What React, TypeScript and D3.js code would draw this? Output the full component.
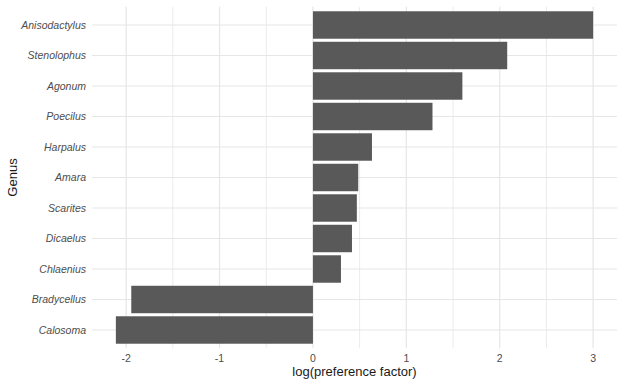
import React from 'react';
import * as d3 from 'd3';

// genera, top to bottom as drawn
const genera = [
  'Anisodactylus', 'Stenolophus', 'Agonum', 'Poecilus', 'Harpalus', 'Amara',
  'Scarites', 'Dicaelus', 'Chlaenius', 'Bradycellus', 'Calosoma',
];
const logPref = [3.0, 2.08, 1.6, 1.28, 0.632, 0.485, 0.47, 0.418, 0.3, -1.945, -2.11];
const xTicks = [-2, -1, 0, 1, 2, 3];
const xMinor = [-1.5, -0.5, 0.5, 1.5, 2.5];

const width = 624;
const height = 385;
const margin = { top: 6.7, right: 7, bottom: 36.7, left: 92 };

export default function App() {
  const lo = Math.min(0, d3.min(logPref) as number);
  const hi = Math.max(0, d3.max(logPref) as number);
  const pad = (hi - lo) * 0.05;

  const x = d3.scaleLinear()
    .domain([lo - pad, hi + pad])
    .range([margin.left, width - margin.right]);

  const y = d3.scaleBand()
    .domain(genera)
    .range([margin.top, height - margin.bottom])
    .paddingInner(0.1)
    .paddingOuter(0.15);

  const top = margin.top;
  const bottom = height - margin.bottom;
  const font = '"Liberation Sans", Arial, sans-serif';

  return (
    <svg width={width} height={height}
      style={{ position: 'absolute', left: 0, top: 0, background: '#fff' }}>
      {/* minor grid */}
      {xMinor.map(t => (
        <line key={'m' + t} x1={x(t)} x2={x(t)} y1={top} y2={bottom}
          stroke="#ebebeb" strokeWidth={1} />
      ))}
      {/* major grid */}
      {xTicks.map(t => (
        <line key={'g' + t} x1={x(t)} x2={x(t)} y1={top} y2={bottom}
          stroke="#e6e6e6" strokeWidth={1.2} />
      ))}
      {genera.map(g => {
        const cy = (y(g) as number) + y.bandwidth() / 2;
        return <line key={'h' + g} x1={margin.left} x2={width - margin.right}
          y1={cy} y2={cy} stroke="#e6e6e6" strokeWidth={1.2} />;
      })}

      {/* bars */}
      {genera.map((g, i) => {
        const v = logPref[i];
        return (
          <rect key={g}
            x={Math.min(x(0), x(v))}
            width={Math.abs(x(v) - x(0))}
            y={y(g)}
            height={y.bandwidth()}
            fill="#595959" />
        );
      })}

      {/* y labels */}
      {genera.map(g => (
        <text key={'l' + g} x={margin.left - 6}
          y={(y(g) as number) + y.bandwidth() / 2}
          dy="0.35em" textAnchor="end" fontFamily={font}
          fontStyle="italic" fontSize={10.5} fill="#4d4d4d">{g}</text>
      ))}

      {/* x tick labels */}
      {xTicks.map(t => (
        <text key={'t' + t} x={x(t)} y={bottom + 13.5} textAnchor="middle"
          fontFamily={font} fontSize={10.5} fill="#4d4d4d">{t}</text>
      ))}

      <text x={(margin.left + width - margin.right) / 2} y={bottom + 28}
        textAnchor="middle" fontFamily={font} fontSize={13} fill="#1a1a1a">
        log(preference factor)
      </text>
      <text transform={`translate(17,${(top + bottom) / 2}) rotate(-90)`}
        textAnchor="middle" fontFamily={font} fontSize={13} fill="#1a1a1a">
        Genus
      </text>
    </svg>
  );
}
